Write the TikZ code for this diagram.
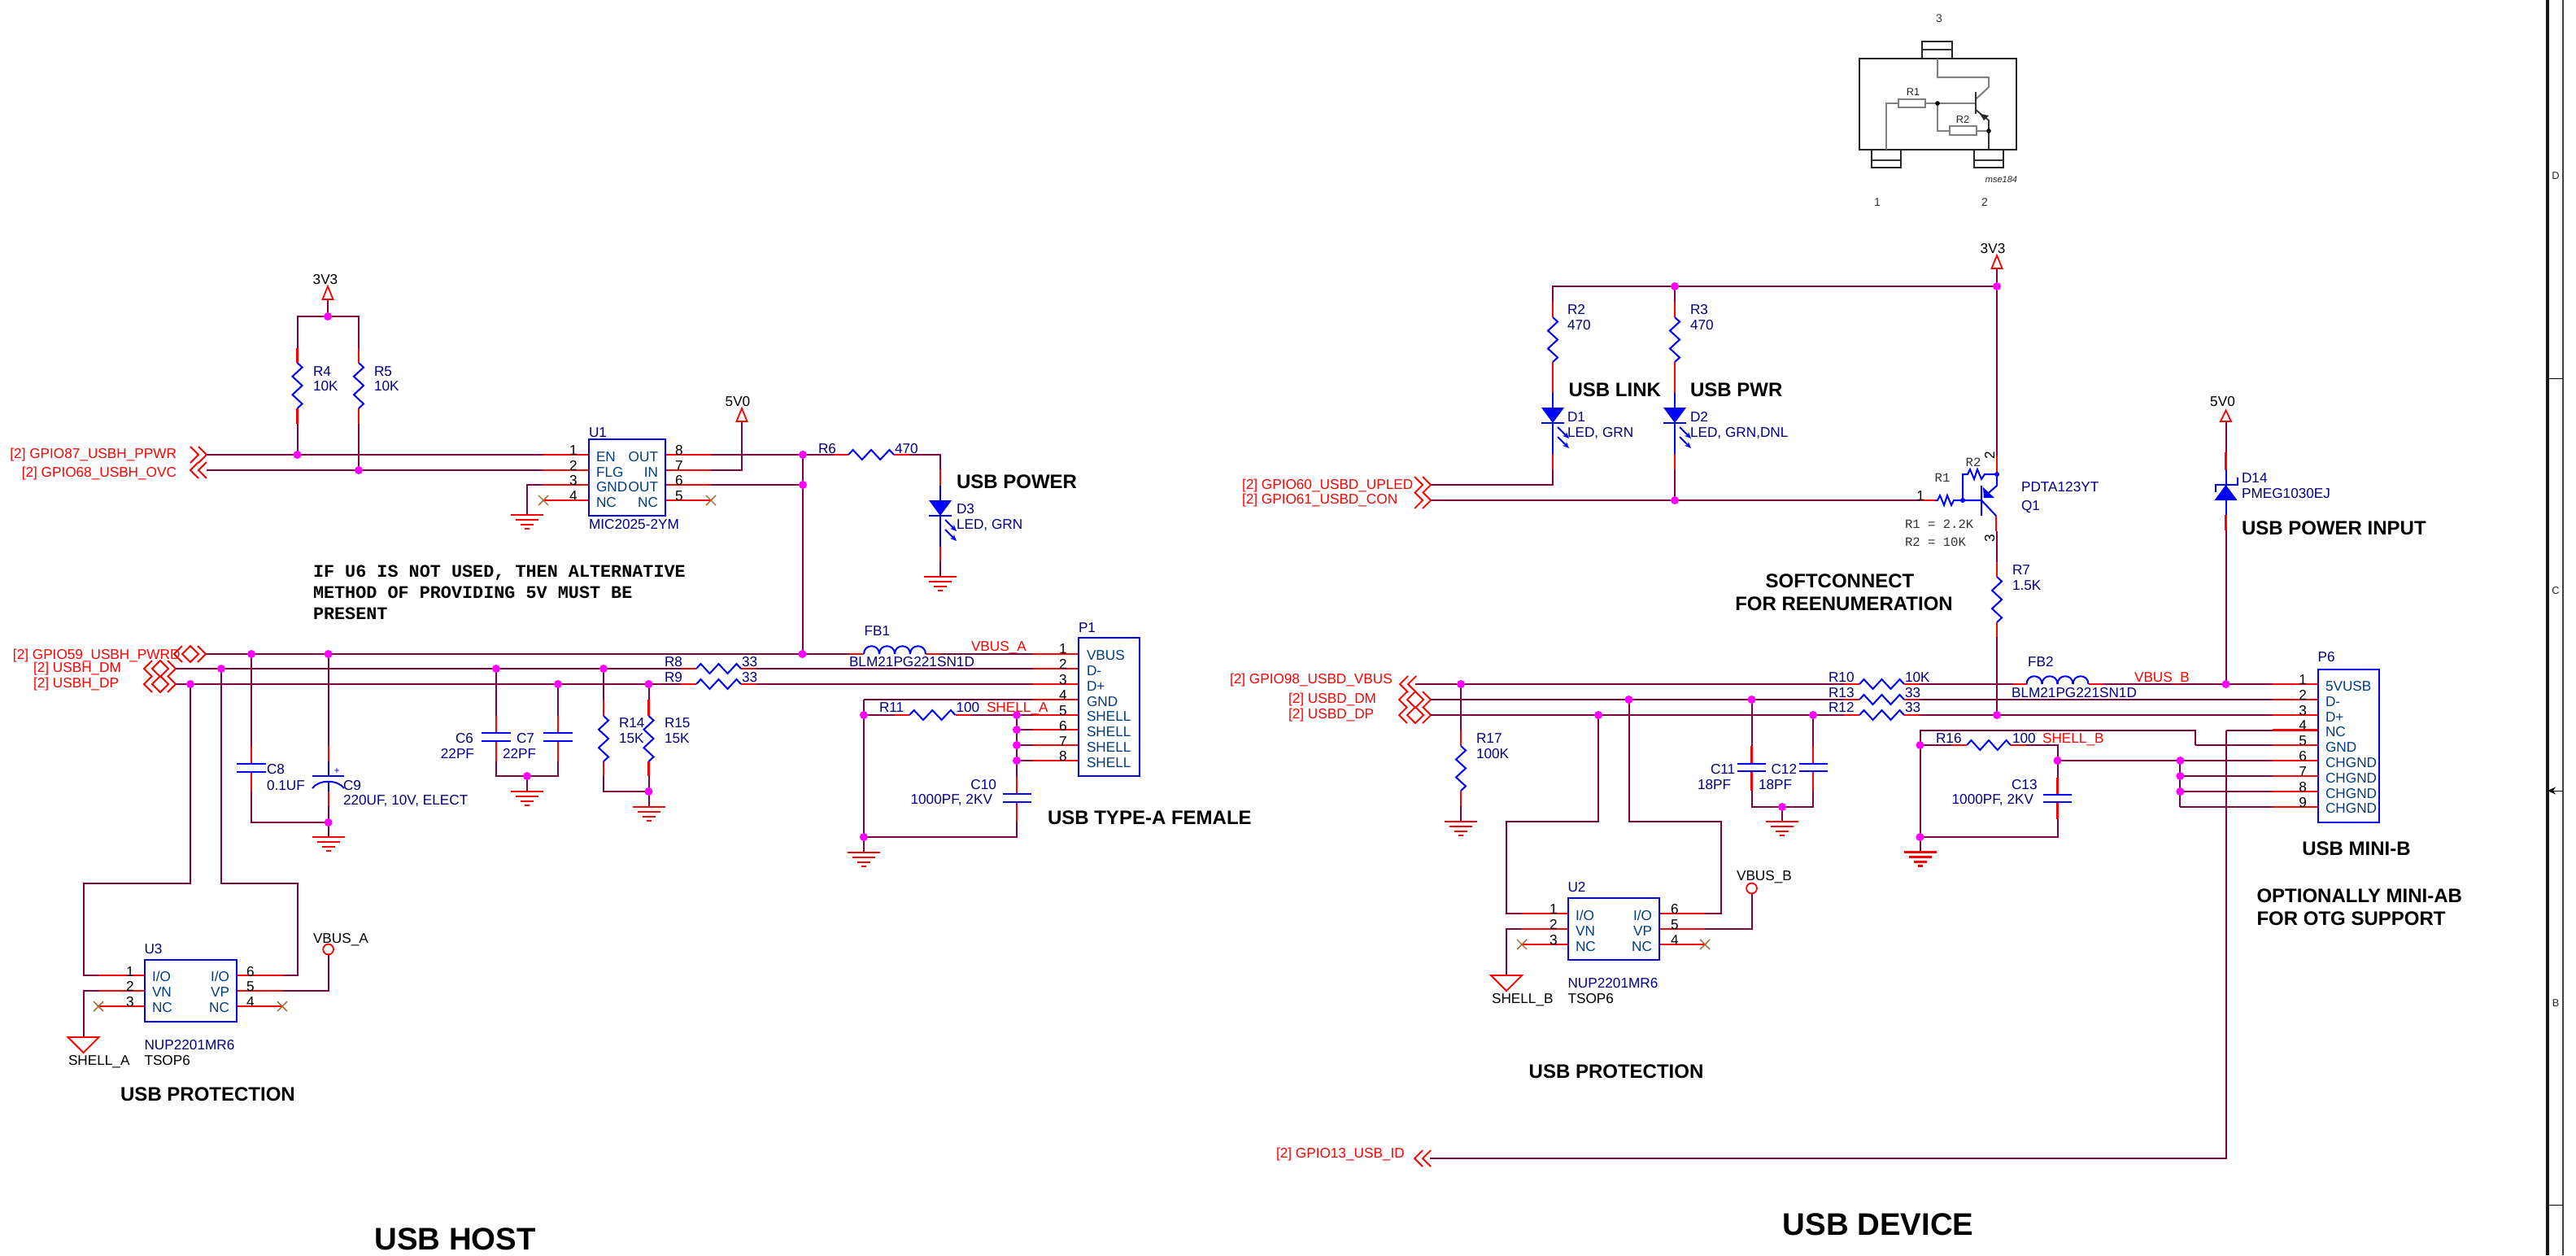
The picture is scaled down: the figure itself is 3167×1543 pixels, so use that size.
\documentclass[tikz,border=0pt]{standalone}
\usepackage{fontspec}
\setmainfont{Liberation Sans}
\setmonofont{Liberation Mono}
\usetikzlibrary{arrows.meta}
\definecolor{wirec}{HTML}{800040}
\definecolor{navyc}{HTML}{000080}
\definecolor{pinnm}{HTML}{003C80}
\definecolor{brownx}{HTML}{A5652A}
\definecolor{grayw}{HTML}{808080}
\definecolor{jcol}{HTML}{FF00FF}
\newcount\nodeno
\tikzset{
  wire/.style={draw=wirec,line width=1pt,line join=miter},
  pinw/.style={draw=red,line width=1.1pt},
  comp/.style={draw=blue,line width=1pt,line join=miter},
  netw/.style={draw=red,line width=.9pt,line join=miter},
  lab/.style={inner sep=0pt,outer sep=0pt,font=\fontsize{8.6}{10}\selectfont,text height=6.2pt,text depth=0pt},
  ref/.style={text=navyc},
  pnum/.style={text=black},
  pname/.style={text=pinnm},
  redt/.style={text=red},
  blk/.style={text=black},
  ttl/.style={font=\fontsize{12}{14}\selectfont\bfseries,text height=8.6pt,text=black},
  big/.style={font=\fontsize{19.2}{22}\selectfont\bfseries,text height=13.8pt,text=black},
  note/.style={font=\fontsize{10.9}{13}\selectfont\ttfamily\bfseries,text height=7.2pt,text=black},
  cour/.style={font=\fontsize{7.8}{10}\selectfont\ttfamily,text height=5.2pt,text=black!80},
  tiny/.style={font=\fontsize{6.4}{8}\selectfont,text height=4.6pt,text=black!85},
  gw/.style={draw=grayw,line width=1pt},
  pk/.style={draw=black!85,line width=1.4pt,fill=white},
}
\newcommand\tL[4]{\global\advance\nodeno by 1\relax\node[lab,#1,anchor=west] (t\the\nodeno) at (#2,#3) {#4};}
\newcommand\tR[4]{\global\advance\nodeno by 1\relax\node[lab,#1,anchor=east] (t\the\nodeno) at (#2,#3) {#4};}
\newcommand\tC[4]{\global\advance\nodeno by 1\relax\node[lab,#1,anchor=center] (t\the\nodeno) at (#2,#3) {#4};}
% junction
\newcommand\jd[2]{\fill[jcol] (#1,#2) circle[radius=2.5pt];}
% vertical and horizontal resistors
\newcommand\rV[3]{\pgfmathsetmacro\rlen{#3-#2}\draw[comp] (#1,#2) -- (#1+6,{#2+.1*\rlen}) -- (#1-6,{#2+.3*\rlen}) -- (#1+6,{#2+.5*\rlen}) -- (#1-6,{#2+.7*\rlen}) -- (#1+6,{#2+.9*\rlen}) -- (#1,#3);}
\newcommand\rH[3]{\pgfmathsetmacro\rlen{#2-#1}\draw[comp] (#1,#3) -- ({#1+.1*\rlen},#3-6) -- ({#1+.3*\rlen},#3+6) -- ({#1+.5*\rlen},#3-6) -- ({#1+.7*\rlen},#3+6) -- ({#1+.9*\rlen},#3-6) -- (#2,#3);}
% capacitor plates
\newcommand\capV[4]{\draw[comp] (#1-#4,#2) -- (#1+#4,#2) (#1-#4,#3) -- (#1+#4,#3);}
% ground
\newcommand\gnd[2]{\draw[pinw] (#1-20,#2) -- (#1+20,#2) (#1-14,#2+6) -- (#1+14,#2+6) (#1-8,#2+12) -- (#1+8,#2+12) (#1-3,#2+17) -- (#1+3,#2+17);}
% no connect
\newcommand\ncx[2]{\draw[draw=brownx,line width=.7pt] (#1-6,#2-6) -- (#1+6,#2+6) (#1-6,#2+6) -- (#1+6,#2-6);}
% power arrow
\newcommand\pwr[3]{\draw[netw] (#1,#2) -- (#1+6.5,#3) -- (#1-6.5,#3) -- cycle;}
% chevrons
\newcommand\chR[2]{\draw[netw] (#1,#2-10) -- (#1+10,#2) -- (#1,#2+10) (#1+10,#2-10) -- (#1+20,#2) -- (#1+10,#2+10);}
\newcommand\chL[2]{\draw[netw] (#1+10,#2-10) -- (#1,#2) -- (#1+10,#2+10) (#1+20,#2-10) -- (#1+10,#2) -- (#1+20,#2+10);}
\newcommand\chB[2]{\draw[netw] (#1+10,#2-10) -- (#1,#2) -- (#1+10,#2+10) (#1+29,#2-10) -- (#1+39,#2) -- (#1+29,#2+10) (#1+20,#2-10) -- (#1+30,#2) -- (#1+20,#2+10) -- (#1+10,#2) -- cycle;}
% ferrite coil
\newcommand\coil[3]{\pgfmathsetmacro\cw{(#2-#1)/4}\foreach \ci in {0,1,2,3}{\draw[comp] ({#1+\ci*\cw},#3) .. controls ({#1+\ci*\cw},#3-13) and ({#1+(\ci+1)*\cw},#3-13) .. ({#1+(\ci+1)*\cw},#3);}}
% LED: x, triangle top y
\newcommand\ledd[2]{\fill[blue] (#1-14,#2) -- (#1+14,#2) -- (#1,#2+19) -- cycle;
  \draw[comp] (#1-14,#2+19) -- (#1+14,#2+19);
  \draw[comp,-{Stealth[length=4pt,width=3.4pt]}] (#1+6,#2+24) -- (#1+20,#2+38);
  \draw[comp,-{Stealth[length=4pt,width=3.4pt]}] (#1+6,#2+36) -- (#1+20,#2+50);}
\begin{document}
\begin{tikzpicture}[x=.5pt,y=-.5pt]
\useasboundingbox (0,0) rectangle (3167,1543);
\fill[white] (0,0) rectangle (3167,1543);

% ---------- right frame ----------
\draw[black!90,line width=1.6pt] (3132,0) -- (3132,1543);
\draw[black!75,line width=1.3pt] (3151,0) -- (3151,1543);
\draw[black,line width=.5pt] (3132,465) -- (3151,465) (3132,1481) -- (3151,1481);
\draw[black,line width=.5pt,{Stealth[length=5pt,width=4.5pt]}-] (3132,972) -- (3151,972);
\tC{tiny}{3142}{216}{D}
\tC{tiny}{3142}{726}{C}
\tC{tiny}{3142}{1233}{B}

% ---------- package drawing ----------
\draw[pk] (2363,51) rectangle (2400,72);
\draw[black!80,line width=.8pt] (2363,61) -- (2400,61);
\draw[pk] (2301,184) rectangle (2337,206);
\draw[black!80,line width=.8pt] (2301,197) -- (2337,197);
\draw[pk] (2427,184) rectangle (2463,206);
\draw[black!80,line width=.8pt] (2427,197) -- (2463,197);
\draw[pk] (2286,72) rectangle (2479,184);
\draw[gw] (2382,72) -- (2382,95) -- (2445,95) -- (2445,107) -- (2429,122);
\draw[gw] (2319,184) -- (2319,127) -- (2334,127);
\draw[gw] (2367,127) -- (2429,127);
\draw[gw] (2382,127) -- (2382,161) -- (2397,161);
\draw[gw] (2430,161) -- (2445,161);
\draw[black!80,line width=.9pt] (2445,184) -- (2445,148) -- (2429,135);
\draw[black!80,line width=1.3pt] (2429,113) -- (2429,140);
\fill[black!85] (2434,140) -- (2445,142) -- (2439,148) -- cycle;
\draw[gw] (2334,122) rectangle (2367,132);
\draw[gw] (2397,155) rectangle (2430,166);
\fill[black] (2382,127) circle[radius=1.4pt] (2445,161) circle[radius=1.4pt];
\tC{tiny}{2352}{113}{R1}
\tC{tiny}{2413}{147}{R2}
\tR{tiny,font=\fontsize{5.5}{7}\selectfont\itshape}{2480}{220}{mse184}
\tC{pnum,font=\fontsize{7}{9}\selectfont,text=black!80,text height=5pt}{2384}{22}{3}
\tC{pnum,font=\fontsize{7}{9}\selectfont,text=black!80,text height=5pt}{2308}{248}{1}
\tC{pnum,font=\fontsize{7}{9}\selectfont,text=black!80,text height=5pt}{2440}{248}{2}

% ================ USB HOST ================
% 3V3 pull-ups
\draw[wire] (403,368) -- (403,389);
\draw[wire] (365.5,428) -- (365.5,389) -- (441,389) -- (441,428);
\pwr{403}{352}{368}
\tC{blk}{400}{343}{3V3}
\draw[pinw] (365.5,428) -- (365.5,446) (365.5,502) -- (365.5,521) (441,428) -- (441,446) (441,502) -- (441,521);
\rV{365.5}{446}{502}
\rV{441}{446}{502}
\draw[wire] (365.5,521) -- (365.5,559) (441,521) -- (441,578);
\tL{ref}{385}{456}{R4}\tL{ref}{385}{474}{10K}
\tL{ref}{460}{456}{R5}\tL{ref}{460}{474}{10K}
% nets to U1
\chR{234}{559}\chL{234}{578}
\tR{redt}{217}{557}{[2] GPIO87\_USBH\_PPWR}
\tR{redt}{217}{580}{[2] GPIO68\_USBH\_OVC}
\draw[wire] (254,559) -- (668,559) (254,578) -- (668,578);
\draw[wire] (668,596) -- (648,596) -- (648,633);
\gnd{648}{633}
\draw[pinw] (668,559) -- (724,559) (668,578) -- (724,578) (668,596) -- (724,596) (668,615) -- (724,615);
\draw[pinw] (818,559) -- (874,559) (818,578) -- (874,578) (818,596) -- (874,596) (818,615) -- (874,615);
\ncx{668}{615}\ncx{874}{615}
\draw[comp] (724,540) rectangle (818,634);
\tL{ref}{724}{531}{U1}
\tL{ref}{724}{644}{MIC2025-2YM}
\tC{pnum}{705}{553}{1}\tC{pnum}{705}{572}{2}\tC{pnum}{705}{590}{3}\tC{pnum}{705}{609}{4}
\tC{pnum}{835}{553}{8}\tC{pnum}{835}{572}{7}\tC{pnum}{835}{590}{6}\tC{pnum}{835}{609}{5}
\tL{pname}{733}{561}{EN}\tL{pname}{733}{580}{FLG}\tL{pname}{733}{598}{GND}\tL{pname}{733}{617}{NC}
\tR{pname}{809}{561}{OUT}\tR{pname}{809}{580}{IN}\tR{pname}{809}{598}{OUT}\tR{pname}{809}{617}{NC}
\draw[wire] (874,559) -- (1025,559) (874,596) -- (987,596) (987,559) -- (987,804);
\draw[wire] (874,578) -- (912,578) -- (912,518);
\pwr{912}{502}{518}
\tC{blk}{907}{493}{5V0}
% R6, D3
\draw[pinw] (1025,559) -- (1043,559) (1099,559) -- (1118,559);
\rH{1043}{1099}{559}
\draw[wire] (1118,559) -- (1156,559) -- (1156,577);
\draw[pinw] (1156,577) -- (1156,597) (1156,672) -- (1156,690);
\draw[comp] (1156,597) -- (1156,672);
\ledd{1156}{615}
\draw[wire] (1156,690) -- (1156,709);
\gnd{1156}{709}
\tL{ref}{1006}{551}{R6}\tL{ref}{1100}{551}{470}
\tL{ttl}{1176}{592}{USB POWER}
\tL{ref}{1176}{625}{D3}\tL{ref}{1176}{644}{LED, GRN}
% note
\tL{note}{385}{702}{IF U6 IS NOT USED, THEN ALTERNATIVE}
\tL{note}{385}{728}{METHOD OF PROVIDING 5V MUST BE}
\tL{note}{385}{754}{PRESENT}
% bus rows
\chB{214}{804}\chB{177}{822}\chB{177}{841}
\tL{redt}{16}{804}{[2] GPIO59\_USBH\_PWRD}
\tL{redt}{41}{820}{[2] USBH\_DM}
\tL{redt}{41}{839}{[2] USBH\_DP}
\draw[wire] (253,804) -- (1044,804) (216,822) -- (837,822) (216,841) -- (837,841);
\draw[wire] (309,804) -- (309,917) (309,973) -- (309,1011) -- (403.6,1011);
\draw[wire] (403.6,804) -- (403.6,917) (403.6,991) -- (403.6,1029);
\draw[pinw] (309,917) -- (309,938.5) (309,949) -- (309,973) (403.6,917) -- (403.6,936) (403.6,973) -- (403.6,991);
\draw[comp] (403.6,936) -- (403.6,954) (403.6,962) -- (403.6,973);
\capV{309}{938.5}{949}{18}
\draw[comp] (384,954) -- (423,954);
\draw[comp] (384,969) .. controls (392,958) and (415,958) .. (423,969);
\tC{ref,font=\fontsize{6}{8}\selectfont,text height=4pt,text=blue}{414}{947}{+}
\gnd{403.6}{1029}
\tL{ref}{328}{945}{C8}\tL{ref}{328}{965}{0.1UF}
\tL{ref}{422}{965}{C9}\tL{ref}{422}{983}{220UF, 10V, ELECT}
% C6 C7
\draw[wire] (610,822) -- (610,880) (686,841) -- (686,880) (610,936) -- (610,954) -- (686,954) -- (686,936) (648,954) -- (648,973);
\draw[pinw] (610,880) -- (610,901) (610,911) -- (610,936) (686,880) -- (686,901) (686,911) -- (686,936);
\capV{610}{901}{911}{18}\capV{686}{901}{911}{18}
\gnd{648}{973}
\tR{ref}{582}{907.5}{C6}\tR{ref}{583}{926}{22PF}
\tL{ref}{635}{907.5}{C7}\tL{ref}{618}{926}{22PF}
% R14 R15
\draw[wire] (742,822) -- (742,860) (797.5,841) -- (797.5,860) (742,954) -- (742,973) -- (797.5,973) (797.5,954) -- (797.5,992);
\draw[pinw] (742,860) -- (742,880) (742,936) -- (742,954) (797.5,860) -- (797.5,880) (797.5,936) -- (797.5,954);
\rV{742}{880}{936}\rV{797.5}{880}{936}
\gnd{797.5}{992}
\tL{ref}{761}{888}{R14}\tL{ref}{761}{907}{15K}
\tL{ref}{817}{888}{R15}\tL{ref}{817}{907}{15K}
% series R8 R9 FB1
\draw[pinw] (837,822) -- (856,822) (911,822) -- (930,822) (837,841) -- (856,841) (911,841) -- (930,841);
\rH{856}{911}{822}\rH{856}{911}{841}
\tL{ref}{817}{813}{R8}\tL{ref}{912}{813}{33}
\tL{ref}{817}{832}{R9}\tL{ref}{912}{832}{33}
\draw[pinw] (1044,804) -- (1062,804) (1138,804) -- (1156,804);
\coil{1062}{1138}{804}
\tL{ref}{1062.6}{775}{FB1}\tL{ref}{1044}{813}{BLM21PG221SN1D}
\tL{redt}{1194}{794}{VBUS\_A}
\draw[wire] (1156,804) -- (1270,804) (930,822) -- (1270,822) (930,841) -- (1270,841) (1062,860) -- (1270,860);
\draw[wire] (1250,897) -- (1270,897) (1250,916) -- (1270,916) (1250,935) -- (1270,935);
\draw[pinw] (1270,804) -- (1326,804) (1270,822) -- (1326,822) (1270,841) -- (1326,841) (1270,860) -- (1326,860) (1270,879) -- (1326,879) (1270,897) -- (1326,897) (1270,916) -- (1326,916) (1270,935) -- (1326,935);
\draw[comp] (1326,784) rectangle (1401,954);
\tL{ref}{1326}{771}{P1}
\tC{pnum}{1307}{797}{1}\tC{pnum}{1307}{816}{2}\tC{pnum}{1307}{835}{3}\tC{pnum}{1307}{854}{4}\tC{pnum}{1307}{873}{5}\tC{pnum}{1307}{892}{6}\tC{pnum}{1307}{911}{7}\tC{pnum}{1307}{929}{8}
\tL{pname}{1336}{805}{VBUS}\tL{pname}{1336}{824}{D-}\tL{pname}{1336}{843}{D+}\tL{pname}{1336}{862}{GND}\tL{pname}{1336}{880}{SHELL}\tL{pname}{1336}{899}{SHELL}\tL{pname}{1336}{918}{SHELL}\tL{pname}{1336}{937}{SHELL}
% R11 C10
\draw[wire] (1062,860) -- (1062,1048) (1062,879) -- (1100,879) (1193,879) -- (1270,879);
\draw[pinw] (1100,879) -- (1118,879) (1174.5,879) -- (1193,879);
\rH{1118}{1174.5}{879}
\draw[wire] (1250,879) -- (1250,955) (1250,1010) -- (1250,1029) -- (1062,1029);
\draw[pinw] (1250,955) -- (1250,976) (1250,986) -- (1250,1010);
\capV{1250}{976}{986}{17.5}
\gnd{1062}{1048}
\tL{ref}{1081}{869}{R11}\tL{ref}{1175.5}{869}{100}\tL{redt}{1213}{869}{SHELL\_A}
\tR{ref}{1225}{964}{C10}\tR{ref}{1220}{982}{1000PF, 2KV}
\tL{ttl}{1288}{1005}{USB TYPE-A FEMALE}
% U3
\draw[wire] (234,841) -- (234,1086) -- (102.5,1086) -- (102.5,1199) -- (121,1199);
\draw[wire] (272,822) -- (272,1086) -- (366,1086) -- (366,1199) -- (347,1199);
\draw[wire] (121,1218) -- (102.5,1218) -- (102.5,1275);
\draw[wire] (347,1218) -- (403.6,1218) -- (403.6,1173.5);
\draw[pinw] (121,1199) -- (177.5,1199) (121,1218) -- (177.5,1218) (121,1237) -- (177.5,1237) (291,1199) -- (347,1199) (291,1218) -- (347,1218) (291,1237) -- (347,1237);
\ncx{121}{1237}\ncx{347}{1237}
\draw[comp] (177.5,1180) rectangle (291,1256);
\draw[netw] (83.5,1275) -- (121.5,1275) -- (102.5,1294) -- cycle;
\draw[netw] (403.6,1167) circle[radius=3.2pt];
\tL{blk}{84}{1303}{SHELL\_A}
\tL{blk}{385}{1153}{VBUS\_A}
\tL{ref}{177.5}{1166}{U3}
\tL{ref}{177.5}{1284}{NUP2201MR6}
\tL{blk}{177.5}{1303}{TSOP6}
\tC{pnum}{160}{1194}{1}\tC{pnum}{160}{1212}{2}\tC{pnum}{160}{1231}{3}
\tC{pnum}{308}{1194}{6}\tC{pnum}{308}{1212}{5}\tC{pnum}{308}{1231}{4}
\tL{pname}{187}{1200.6}{I/O}\tL{pname}{187}{1219}{VN}\tL{pname}{187}{1238}{NC}
\tR{pname}{282}{1200.6}{I/O}\tR{pname}{282}{1219}{VP}\tR{pname}{282}{1238}{NC}
\tC{ttl}{255.5}{1345}{USB PROTECTION}
\tC{big}{559.5}{1523}{USB HOST}
% host junctions
\jd{403}{389}\jd{365.5}{559}\jd{441}{578}\jd{987}{559}\jd{987}{596}\jd{986.5}{804}
\jd{309}{804}\jd{403.6}{804}\jd{272}{822}\jd{610}{822}\jd{742}{822}\jd{234}{841}\jd{686}{841}\jd{797.5}{841}
\jd{403.6}{1011}\jd{648}{954}\jd{797.5}{973}
\jd{1062}{879}\jd{1062}{1029}\jd{1250}{879}\jd{1250}{897}\jd{1250}{916}\jd{1250}{935}

% ================ USB DEVICE ================
\draw[wire] (2455,330) -- (2455,560);
\draw[wire] (1909,371) -- (1909,352) -- (2455,352);
\draw[wire] (2059,352) -- (2059,371);
\pwr{2455}{314}{330}
\tC{blk}{2450}{305}{3V3}
\draw[pinw] (1909,371) -- (1909,390) (1909,445) -- (1909,483) (2059,371) -- (2059,390) (2059,445) -- (2059,483);
\rV{1909}{390}{445}\rV{2059}{390}{445}
\draw[comp] (1909,483) -- (1909,558) (2059,483) -- (2059,558);
\ledd{1909}{501}\ledd{2059}{501}
\draw[pinw] (1909,558) -- (1909,577) (2059,558) -- (2059,577);
\draw[wire] (1909,577) -- (1909,596) -- (1758,596) (2059,577) -- (2059,615);
\draw[wire] (1758,615) -- (2361,615);
\chR{1739}{596}\chR{1739}{615}
\tL{redt}{1527}{595}{[2] GPIO60\_USBD\_UPLED}
\tL{redt}{1527}{613}{[2] GPIO61\_USBD\_CON}
\tL{ref}{1927}{380}{R2}\tL{ref}{1927}{399}{470}
\tL{ref}{2078}{380}{R3}\tL{ref}{2078}{399}{470}
\tL{ttl}{1928.6}{479}{USB LINK}\tL{ttl}{2078}{479}{USB PWR}
\tL{ref}{1927}{512}{D1}\tL{ref}{1927}{531}{LED, GRN}
\tL{ref}{2078}{512}{D2}\tL{ref}{2078}{531}{LED, GRN,DNL}
% transistor
\draw[pinw] (2361,615) -- (2379,615) (2455,560) -- (2455,583) (2454,634) -- (2454,653) (2455,691) -- (2455,709) (2455,765) -- (2455,783);
\draw[comp] (2379,615) -- (2382,615) -- (2385,609) -- (2390,621) -- (2394,609) -- (2399,621) -- (2402,615) -- (2436,615);
\draw[comp] (2413,615) -- (2413,583) -- (2419,583) -- (2422,577) -- (2427,589) -- (2431,577) -- (2436,589) -- (2440,583) -- (2455,583) -- (2455,597) -- (2439,611);
\draw[comp] (2436,597) -- (2436,634) (2436,615) -- (2454,634);
\fill[blue] (2438,599) -- (2452,612) -- (2439,612) -- cycle;
\fill[blue] (2413,615) circle[radius=1.5pt] (2455,583) circle[radius=1.5pt];
\draw[wire] (2455,653) -- (2455,691) (2455,783) -- (2455,879);
\rV{2455}{709}{765}
\tC{cour}{2388}{587}{R1}\tC{cour}{2426}{568}{R2}
\tL{cour}{2342}{644}{R1 = 2.2K}\tL{cour}{2342}{666}{R2 = 10K}
\tC{pnum}{2361}{609}{1}
\tC{pnum,rotate=90}{2446}{560}{2}\tC{pnum,rotate=90}{2446}{662}{3}
\tL{ref}{2485}{598}{PDTA123YT}\tL{ref}{2485}{621}{Q1}
\tL{ref}{2474}{700}{R7}\tL{ref}{2474}{719}{1.5K}
\tC{ttl}{2262}{714}{SOFTCONNECT}\tC{ttl}{2267}{742}{FOR REENUMERATION}
% nets rows
\chL{1721}{841}\chB{1720}{860}\chB{1720}{879}
\tL{redt}{1512}{834}{[2] GPIO98\_USBD\_VBUS}
\tL{redt}{1584}{858}{[2] USBD\_DM}
\tL{redt}{1584}{877}{[2] USBD\_DP}
\draw[wire] (1740,841) -- (2267,841) (1759,860) -- (2267,860) (1759,879) -- (2267,879);
\draw[pinw] (2267,841) -- (2286,841) (2341,841) -- (2359,841) (2267,860) -- (2286,860) (2341,860) -- (2359,860) (2267,879) -- (2286,879) (2341,879) -- (2359,879);
\rH{2286}{2341}{841}\rH{2286}{2341}{860}\rH{2286}{2341}{879}
\tL{ref}{2248}{832}{R10}\tL{ref}{2248}{851}{R13}\tL{ref}{2248}{869}{R12}
\tL{ref}{2342}{832}{10K}\tL{ref}{2342}{851}{33}\tL{ref}{2342}{869}{33}
% R17
\draw[wire] (1796,841) -- (1796,898) (1796,991) -- (1796,1010);
\draw[pinw] (1796,898) -- (1796,917) (1796,972) -- (1796,991);
\rV{1796}{917}{972}
\gnd{1796}{1010}
\tL{ref}{1815}{907}{R17}\tL{ref}{1815}{926}{100K}
% C11 C12
\draw[wire] (2153.5,860) -- (2153.5,917) (2229,879) -- (2229,917) (2153.5,972) -- (2153.5,992) -- (2229,992) -- (2229,972) (2191,992) -- (2191,1010);
\draw[pinw] (2153.5,917) -- (2153.5,939) (2153.5,948) -- (2153.5,972) (2229,917) -- (2229,939) (2229,948) -- (2229,972);
\capV{2153.5}{939}{948}{17.5}\capV{2229}{939}{948}{17.5}
\gnd{2191}{1010}
\tL{ref}{2103}{945}{C11}\tL{ref}{2087}{964}{18PF}
\tL{ref}{2177.5}{945}{C12}\tL{ref}{2162}{964}{18PF}
% U2
\draw[wire] (1965,879) -- (1965,1010) -- (1852,1010) -- (1852,1123) -- (1871,1123);
\draw[wire] (2002.5,860) -- (2002.5,1010) -- (2116,1010) -- (2116,1123) -- (2096,1123);
\draw[wire] (1871,1142) -- (1852,1142) -- (1852,1199);
\draw[wire] (2096,1142) -- (2153.5,1142) -- (2153.5,1098.5);
\draw[pinw] (1871,1123) -- (1927.5,1123) (1871,1142) -- (1927.5,1142) (1871,1161) -- (1927.5,1161) (2040,1123) -- (2096,1123) (2040,1142) -- (2096,1142) (2040,1161) -- (2096,1161);
\ncx{1871}{1161}\ncx{2096}{1161}
\draw[comp] (1927.5,1104) rectangle (2040,1180);
\draw[netw] (1833,1199) -- (1871,1199) -- (1852,1218) -- cycle;
\draw[netw] (2153.5,1092) circle[radius=3.2pt];
\tL{blk}{1834}{1227}{SHELL\_B}
\tL{blk}{2135}{1076}{VBUS\_B}
\tL{ref}{1927.5}{1090}{U2}
\tL{ref}{1927.5}{1208}{NUP2201MR6}
\tL{blk}{1927.5}{1227}{TSOP6}
\tC{pnum}{1910}{1117}{1}\tC{pnum}{1910}{1136}{2}\tC{pnum}{1910}{1155}{3}
\tC{pnum}{2059}{1117}{6}\tC{pnum}{2059}{1136}{5}\tC{pnum}{2059}{1155}{4}
\tL{pname}{1937}{1125}{I/O}\tL{pname}{1937}{1144}{VN}\tL{pname}{1937}{1163}{NC}
\tR{pname}{2031}{1125}{I/O}\tR{pname}{2031}{1144}{VP}\tR{pname}{2031}{1163}{NC}
\tC{ttl}{1987}{1317}{USB PROTECTION}
% FB2 and connector rows
\draw[wire] (2359,841) -- (2475,841) (2359,860) -- (2794,860) (2359,879) -- (2794,879);
\draw[pinw] (2475,841) -- (2491.5,841) (2567.5,841) -- (2586,841);
\coil{2491.5}{2567.5}{841}
\draw[wire] (2586,841) -- (2794,841);
\tL{ref}{2493}{813.5}{FB2}\tL{ref}{2473}{851}{BLM21PG221SN1D}
\tL{redt}{2624}{832}{VBUS\_B}
% D14
\draw[wire] (2736.5,518) -- (2736.5,556) (2736.5,652) -- (2736.5,841);
\pwr{2736.5}{504.5}{518}
\tC{blk}{2732.5}{493.5}{5V0}
\draw[pinw] (2736.5,556) -- (2736.5,578) (2736.5,633) -- (2736.5,652);
\draw[comp] (2736.5,578) -- (2736.5,633);
\fill[blue] (2722.5,615) -- (2750.5,615) -- (2736.5,596) -- cycle;
\draw[comp] (2751,587) -- (2751,596) -- (2724,596) -- (2724,605);
\tL{ref}{2756}{587}{D14}\tL{ref}{2756}{606}{PMEG1030EJ}
\tL{ttl}{2756}{649}{USB POWER INPUT}
% P6
\draw[wire] (2736.5,897.5) -- (2736.5,1424) -- (1758,1424) (2736.5,897.5) -- (2794,897.5);
\chL{1739}{1424}
\tL{redt}{1569}{1417}{[2] GPIO13\_USB\_ID}
\draw[wire] (2699,916) -- (2794,916) (2699,916) -- (2699,897.5) -- (2360.5,897.5) -- (2360.5,1047.5);
\draw[wire] (2360.5,916) -- (2399,916) (2491,916) -- (2529.5,916) -- (2529.5,955.5) (2529.5,935) -- (2794,935);
\draw[pinw] (2399,916) -- (2418,916) (2472,916) -- (2491,916);
\rH{2418}{2472}{916}
\draw[pinw] (2529.5,955.5) -- (2529.5,976.5) (2529.5,986) -- (2529.5,1007);
\capV{2529.5}{976.5}{986}{17.5}
\draw[wire] (2529.5,1007) -- (2529.5,1029) -- (2360.5,1029);
\gnd{2360.5}{1047.5}
\draw[wire] (2680.4,935) -- (2680.4,992) (2680.4,954) -- (2794,954) (2680.4,973) -- (2794,973) (2680.4,992) -- (2794,992);
\draw[pinw] (2794,841) -- (2849.5,841) (2794,860) -- (2849.5,860) (2794,879) -- (2849.5,879) (2794,897.5) -- (2849.5,897.5) (2794,916) -- (2849.5,916) (2794,935) -- (2849.5,935) (2794,954) -- (2849.5,954) (2794,973) -- (2849.5,973) (2794,992) -- (2849.5,992);
\draw[comp] (2849.5,822.5) rectangle (2925,1011);
\tL{ref}{2849.5}{807}{P6}
\tC{pnum}{2831}{835}{1}\tC{pnum}{2831}{854}{2}\tC{pnum}{2831}{873}{3}\tC{pnum}{2831}{891.5}{4}\tC{pnum}{2831}{910}{5}\tC{pnum}{2831}{929}{6}\tC{pnum}{2831}{948}{7}\tC{pnum}{2831}{967}{8}\tC{pnum}{2831}{986}{9}
\tL{pname}{2859}{843}{5VUSB}\tL{pname}{2859}{862}{D-}\tL{pname}{2859}{881}{D+}\tL{pname}{2859}{899}{NC}\tL{pname}{2859}{918}{GND}\tL{pname}{2859}{937}{CHGND}\tL{pname}{2859}{956}{CHGND}\tL{pname}{2859}{975}{CHGND}\tL{pname}{2859}{993}{CHGND}
\tL{ref}{2380}{907}{R16}\tL{ref}{2474}{907}{100}\tL{redt}{2511}{907}{SHELL\_B}
\tL{ref}{2473}{964.5}{C13}\tR{ref}{2500}{982}{1000PF, 2KV}
\tC{ttl}{2897}{1043}{USB MINI-B}
\tL{ttl}{2774.5}{1100.6}{OPTIONALLY MINI-AB}
\tL{ttl}{2774.5}{1129}{FOR OTG SUPPORT}
\tC{big}{2309}{1505}{USB DEVICE}
% device junctions
\jd{2059}{352}\jd{2455}{352}\jd{2059}{615}
\jd{1796}{841}\jd{2002.5}{860}\jd{2153.5}{860}\jd{1965}{879}\jd{2229}{879}\jd{2191}{992}
\jd{2455}{879}\jd{2736.5}{841}
\jd{2360.5}{916}\jd{2360.5}{1029}\jd{2529.5}{935}\jd{2680.4}{935}\jd{2680.4}{954}\jd{2680.4}{973}
\end{tikzpicture}
\end{document}
